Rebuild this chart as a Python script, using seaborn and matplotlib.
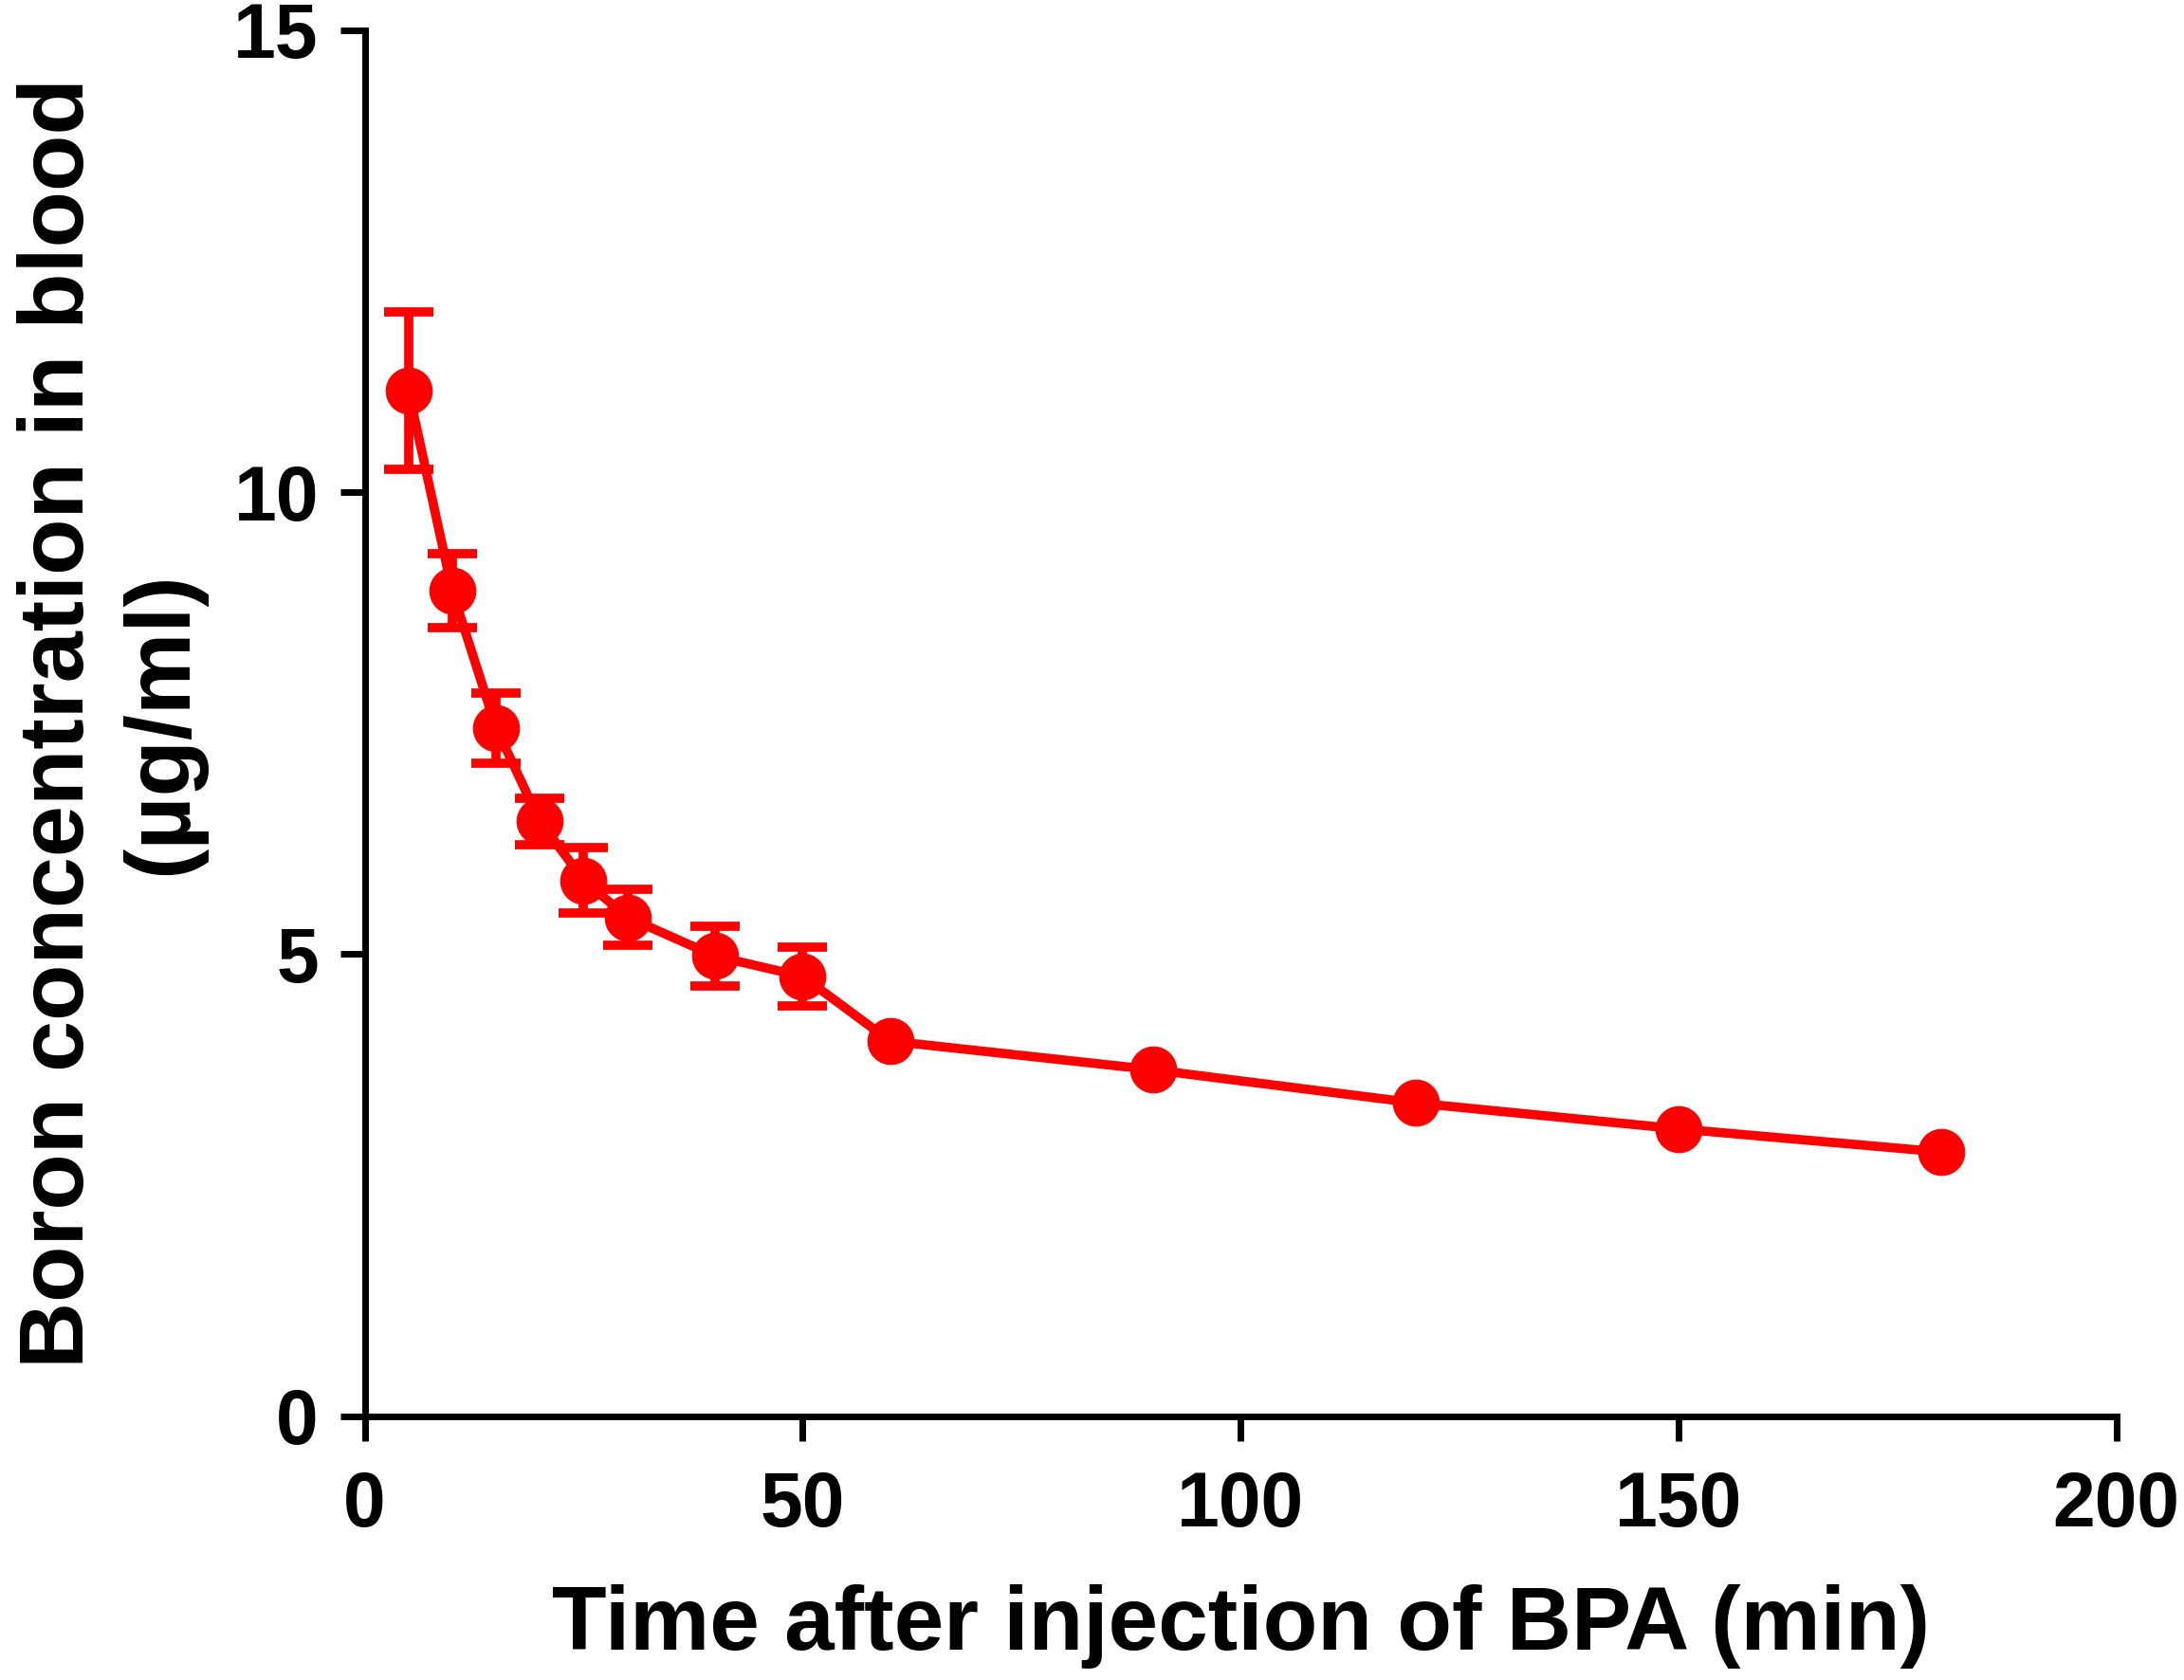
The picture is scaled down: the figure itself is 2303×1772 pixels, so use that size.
import numpy as np
import pandas as pd
import seaborn as sns
import matplotlib.pyplot as plt

# valores
time_min = [5, 10, 15, 20, 25, 30, 40, 50, 60, 90, 120, 150, 180]
boron_mean = [11.1, 8.93, 7.45, 6.44, 5.8, 5.4, 4.98, 4.76, 4.06, 3.75, 3.39, 3.11, 2.86]
boron_err = [0.85, 0.4, 0.38, 0.25, 0.35, 0.3, 0.32, 0.32, 0.0, 0.0, 0.0, 0.0, 0.0]

df = pd.DataFrame({'time': time_min, 'boron': boron_mean, 'err': boron_err})

sns.set_style('ticks')
plt.rcParams['font.family'] = ['Liberation Sans', 'DejaVu Sans']
plt.rcParams['font.weight'] = 'bold'
plt.rcParams['text.color'] = 'black'
plt.rcParams['axes.labelcolor'] = 'black'
plt.rcParams['xtick.color'] = 'black'
plt.rcParams['ytick.color'] = 'black'

fig = plt.figure(figsize=(23.03, 17.72), dpi=100)
ax = fig.add_axes([0.167, 0.157, 0.802, 0.825])

red = '#ff0000'
eb = df[df['err'] > 0]
ax.errorbar(eb['time'], eb['boron'], yerr=eb['err'], fmt='none',
            ecolor=red, elinewidth=7, capsize=19, capthick=7, zorder=2)
sns.lineplot(data=df, x='time', y='boron', ax=ax, color=red, linewidth=7,
             marker='o', markersize=35, markeredgecolor=red, zorder=3)

ax.set_xlim(0, 200)
ax.set_ylim(0, 15)
ax.set_xticks([0, 50, 100, 150, 200])
ax.set_yticks([0, 5, 10, 15])
ax.tick_params(axis='both', direction='out', length=19, width=5, labelsize=58,
               labelcolor='black', color='black')
ax.tick_params(axis='x', pad=22)
ax.tick_params(axis='y', pad=16)
for lbl in ax.get_xticklabels() + ax.get_yticklabels():
    lbl.set_fontweight('bold')

for s in ['left', 'bottom']:
    ax.spines[s].set_linewidth(5)
    ax.spines[s].set_color('black')
sns.despine(ax=ax)

ax.set_xlabel('Time after injection of BPA (min)', fontsize=68, fontweight='bold',
              labelpad=32, color='black')
ax.set_ylabel('Boron concentration in blood\n(µg/ml)', fontsize=70, fontweight='bold',
              labelpad=22, linespacing=1.25, color='black')

fig.savefig('out.png', dpi=100)
